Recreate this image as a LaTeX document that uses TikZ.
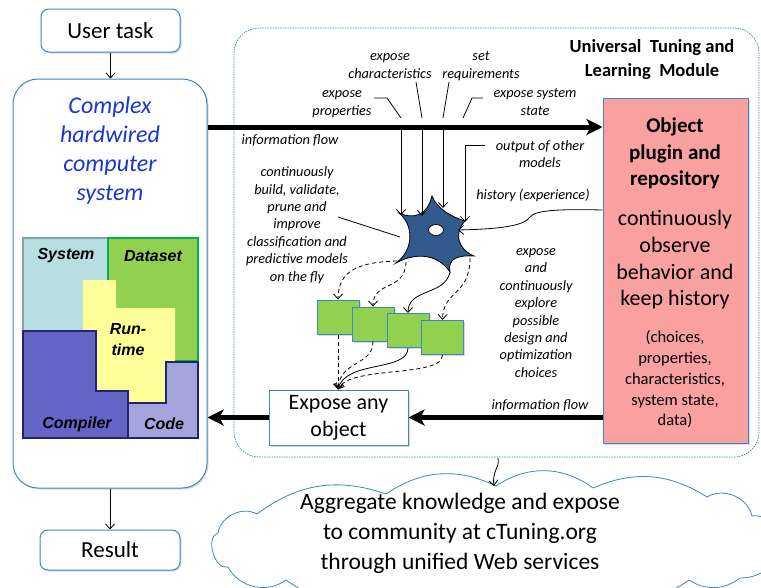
\documentclass[tikz,border=0pt]{standalone}
\usepackage{fontspec}
\setmainfont{Carlito}
\newfontfamily\arialf{Liberation Sans}
\usetikzlibrary{arrows.meta,shadows,calc}
\definecolor{boxblue}{RGB}{60,135,200}
\definecolor{txtblue}{RGB}{25,55,205}
\definecolor{pinkfill}{RGB}{249,160,160}
\definecolor{mgreen}{RGB}{146,208,80}
\definecolor{sysfill}{RGB}{183,222,225}
\definecolor{sysborder}{RGB}{140,160,165}
\definecolor{databorder}{RGB}{0,176,80}
\definecolor{rtfill}{RGB}{255,255,153}
\definecolor{compfill}{RGB}{100,100,200}
\definecolor{codefill}{RGB}{165,165,222}
\definecolor{navy}{RGB}{35,35,110}
\definecolor{neuronfill}{RGB}{50,90,140}
\tikzset{
  shad/.style={drop shadow={opacity=0.3, shadow xshift=1.5pt, shadow yshift=-1.5pt}},
  roundbox/.style={draw=boxblue, line width=1pt, fill=white, rounded corners=8pt, shad, inner sep=0pt, align=center},
  sqbox/.style={draw=boxblue, line width=1pt, fill=white, shad, inner sep=0pt, align=center},
  model/.style={draw=boxblue, line width=1pt, fill=mgreen, shad, minimum width=42pt, minimum height=34pt, inner sep=0pt},
  lbl/.style={font=\fontsize{14.3}{17.4}\selectfont\itshape, align=center, inner sep=0pt},
  puz/.style={font=\arialf\fontsize{16}{20}\selectfont\bfseries\itshape, inner sep=0pt, align=center},
  bigarrow/.style={line width=5pt, -{Stealth[length=16pt,width=16pt,inset=4pt]}},
  thinarrow/.style={line width=0.8pt, -{Straight Barb[length=5pt,width=9pt]}},
  leader/.style={line width=0.8pt},
  dashln/.style={dash pattern=on 4pt off 3pt},
  cloudsty/.style={draw=boxblue, fill=white, line width=0.8pt}
}
\begin{document}
\begin{tikzpicture}[x=1pt,y=-1pt]
\useasboundingbox (0,0) rectangle (761,587);
\clip (0,0) rectangle (761,587);

% cloud
\draw[cloudsty] (228,567) to[bend left=90] (218,533) to[bend left=55] (257,514)
  to[bend left=28] (386,494) to[bend left=30] (496,486) to[bend left=35] (593,488)
  to[bend left=28] (707,497) to[bend left=55] (752,516) to[bend left=60] (780,550)
  to[bend left=35] (740,578) to[bend left=35] (689,580) to[bend left=30] (575,590)
  to[bend left=30] (414,592) to[bend left=30] (286,580) to[bend left=50] (228,567) -- cycle;
\node[font=\fontsize{23.5}{30}\selectfont, align=center, inner sep=0pt] (cloudtxt) at (460,533) {Aggregate knowledge and expose\\to community at cTuning.org\\through unified Web services};

% module
\node[draw=boxblue, line width=0.7pt, dash pattern=on 1.5pt off 1pt, rounded corners=25pt, minimum width=525pt, minimum height=429pt, inner sep=0pt] (module) at (496.5,242.5) {};
\node[font=\fontsize{18.5}{24}\selectfont\bfseries, align=center, inner sep=0pt] (title) at (652,60) {Universal\ \ Tuning and\\Learning\ \ Module};

% left column
\node[roundbox, minimum width=139pt, minimum height=43pt, font=\fontsize{23}{28}\selectfont] (user) at (110.5,30.5) {User task};
\node[roundbox, rounded corners=25pt, minimum width=194pt, minimum height=409pt] (leftbox) at (110,283.5) {};
\node[font=\fontsize{24}{29}\selectfont\itshape, text=txtblue, align=center, inner sep=0pt] (lefttxt) at (110,151) {Complex\\hardwired\\computer\\system};
\node[roundbox, minimum width=140pt, minimum height=40pt, font=\fontsize{23}{28}\selectfont] (result) at (110,550) {Result};
\draw[thinarrow] (user.south) -- (leftbox.north -| user.south);
\draw[thinarrow] (leftbox.south -| result.north) -- (result.north);

% puzzle
\draw[draw=sysborder, fill=sysfill, line width=1.5pt] (23,238) rectangle (108,331);
\draw[draw=databorder, fill=mgreen, line width=1.5pt] (108,238) rectangle (198,361);
\fill[rtfill] (83,280) -- (116,280) -- (116,308) -- (175,308) -- (175,362) -- (166,362) -- (166,403) -- (128,403) -- (128,391) -- (96,391) -- (96,331) -- (83,331) -- cycle;
\draw[draw=navy, fill=compfill, line width=1.5pt] (23,331) -- (96,331) -- (96,391) -- (128,391) -- (128,438) -- (23,438) -- cycle;
\draw[draw=navy, fill=codefill, line width=1.5pt] (128,403) -- (166,403) -- (166,362) -- (198,362) -- (198,438) -- (128,438) -- cycle;
\node[puz] (psys) at (66,256) {System};
\node[puz] (pdata) at (153,256) {Dataset};
\node[puz, font=\arialf\fontsize{16}{21}\selectfont\bfseries\itshape] (prt) at (128,340) {Run-\\time};
\node[puz] (pcomp) at (77,424) {Compiler};
\node[puz] (pcode) at (164,424) {Code};

% object box
\node[sqbox, fill=pinkfill, minimum width=145pt, minimum height=345pt] (obj) at (675.5,270.5) {};
\node[font=\fontsize{21}{26.5}\selectfont\bfseries, align=center, inner sep=0pt] (objt1) at (675,153.5) {Object\\plugin and\\repository};
\node[font=\fontsize{22}{26.7}\selectfont, align=center, inner sep=0pt] (objt2) at (675,260) {continuously\\observe\\behavior and\\keep history};
\node[font=\fontsize{16.5}{20.8}\selectfont, align=center, inner sep=0pt] (objt3) at (675,379.5) {(choices,\\properties,\\characteristics,\\system state,\\data)};

% expose box
\node[sqbox, minimum width=139pt, minimum height=55pt, font=\fontsize{22}{27}\selectfont] (expose) at (338.5,417.5) {Expose any\\object};

% flows
\draw[bigarrow] (leftbox.east |- 0,127) -- (obj.west |- 0,127);
\draw[bigarrow] (obj.west |- expose.east) -- (expose.east);
\draw[bigarrow] (expose.west) -- (leftbox.east |- expose.west);
\node[lbl] (if1) at (290,140) {information flow};
\node[lbl] (if2) at (540,405) {information flow};

% labels
\node[lbl] (lprop) at (342,104) {expose\\properties};
\node[lbl] (lchar) at (390,66) {expose\\characteristics};
\node[lbl] (lreq) at (481,66) {set\\requirements};
\node[lbl] (lstate) at (535,102) {expose system\\state};
\node[lbl] (lout) at (540,154) {output of other\\models};
\node[lbl] (lhist) at (533,195) {history (experience)};
\node[lbl] (lbuild) at (297,225) {continuously\\build, validate,\\prune and\\improve\\classification and\\predictive models\\on the fly};
\node[lbl] (lexpl) at (536,313) {expose\\and\\continuously\\explore\\possible\\design and\\optimization\\choices};

% neuron
\coordinate (nA) at (399,213);
\coordinate (nB) at (432,196);
\coordinate (nC) at (465,221);
\coordinate (nD) at (474,256);
\coordinate (nE) at (450,272);
\coordinate (nF) at (396,263);
\draw[fill=neuronfill, line width=0.8pt] (nA) .. controls (412,219) and (427,217) .. (nB)
  .. controls (437,209) and (452,217) .. (nC)
  .. controls (454,232) and (457,249) .. (nD)
  .. controls (459,255) and (447,258) .. (nE)
  .. controls (440,257) and (420,250) .. (nF)
  .. controls (414,250) and (414,225) .. cycle;
\draw[fill=white, line width=0.8pt] (436,230) ellipse [x radius=7.5, y radius=5.5];

% leader lines and inputs
\draw[leader] (374,98) -- (387,98) -- (401,118);
\draw[leader] (416,82) -- (422,118);
\draw[leader] (449,82) -- (443,118);
\draw[leader] (483,98) -- (472,98) -- (463,118);
\draw[leader] (338,217) -- (400,237);
\coordinate (in1) at (401,127);
\coordinate (in2) at (422,127);
\coordinate (in3) at (443,127);
\coordinate (in4) at (485,145);
\coordinate (t1) at (401,215);
\coordinate (t2) at (422,216);
\coordinate (t3) at (443,208);
\coordinate (t4) at (465,222);
\draw[thinarrow] (in1) -- (t1);
\draw[thinarrow] (in2) -- (t2);
\draw[thinarrow] (in3) -- (t3);
\draw[thinarrow] (in4) -- (465,145) -- (t4);
\coordinate (hs) at (603,210);
\coordinate (ht) at (458,230);
\draw[thinarrow] (obj.west |- hs) .. controls (560,209) and (535,210) .. (530,217) .. controls (524,226) and (500,229) .. (ht);

% model boxes
\node[model] (s1) at (338,317) {};
\node[model] (s2) at (373,324) {};
\node[model] (s3) at (408,330.5) {};
\node[model] (s4) at (442.5,337.5) {};
\coordinate (d1) at (397,261);
\coordinate (d2) at (406,262);
\coordinate (d4) at (470,258);
\draw[thinarrow, dashln] (d1) .. controls (360,262) and (338,270) .. (s1.north);
\draw[thinarrow, dashln] (d2) .. controls (405,292) and (373,280) .. (s2.north);
\draw[thinarrow] (nE) .. controls (445,296) and (408,288) .. (s3.north);
\draw[thinarrow, dashln] (d4) .. controls (470,296) and (443,290) .. (s4.north);
\draw[thinarrow, dashln] (s1.south) -- (expose.north -| s1.south);
\draw[thinarrow, dashln] (s2.south) .. controls (373,366) and (340,360) .. (expose.north -| s1.south);
\draw[thinarrow] (s3.south) .. controls (408,372) and (345,360) .. (expose.north -| s1.south);
\draw[thinarrow, dashln] (s4.south) .. controls (443,378) and (350,365) .. (expose.north -| s1.south);

% module to cloud
\coordinate (mb) at (498,458);
\coordinate (ct) at (494,486);
\draw[thinarrow] (mb) .. controls (500,468) and (492,470) .. (ct);
\end{tikzpicture}
\end{document}
